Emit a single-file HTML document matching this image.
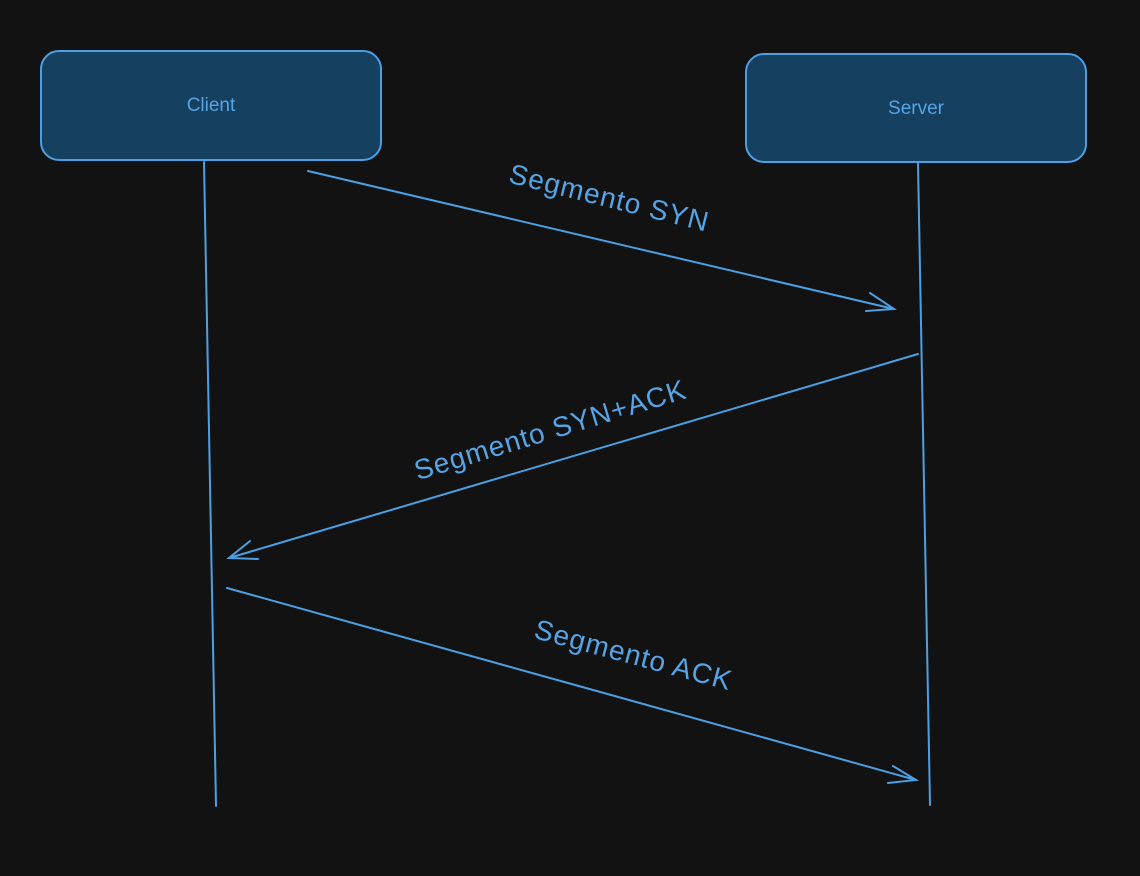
<!DOCTYPE html>
<html><head><meta charset="utf-8"><style>
html,body{margin:0;padding:0;background:#121212;}
svg{display:block}
text{font-family:"Liberation Sans","DejaVu Sans",sans-serif;fill:#56a3e6;}
</style></head><body>
<svg width="1140" height="876" viewBox="0 0 1140 876" xmlns="http://www.w3.org/2000/svg">
<rect width="1140" height="876" fill="#121212"/>
<g stroke="#4d9fe3" stroke-width="2" fill="none" stroke-linecap="round">
<rect x="41" y="51" width="340" height="109" rx="18" fill="#15405f"/>
<rect x="746" y="54" width="340" height="108" rx="18" fill="#15405f"/>
<line x1="204" y1="162" x2="216" y2="806"/>
<line x1="918" y1="163" x2="930" y2="805"/>
<line x1="308" y1="171" x2="894" y2="309"/>
<polyline points="870,293 894,309 866,311"/>
<line x1="918" y1="354" x2="229" y2="558"/>
<polyline points="250,541 229,558 258,559"/>
<line x1="227" y1="588" x2="916" y2="780"/>
<polyline points="893,766 916,780 888,783"/>
</g>
<text x="211" y="111" font-size="19" text-anchor="middle">Client</text>
<text x="916" y="114" font-size="19" text-anchor="middle">Server</text>
<text font-size="28" letter-spacing="1" text-anchor="middle" transform="translate(607,207) rotate(14)">Segmento SYN</text>
<text font-size="28" letter-spacing="1" text-anchor="middle" transform="translate(553,439) rotate(-17)">Segmento SYN+ACK</text>
<text font-size="28" letter-spacing="1" text-anchor="middle" transform="translate(631,664) rotate(15)">Segmento ACK</text>
</svg>
</body></html>
